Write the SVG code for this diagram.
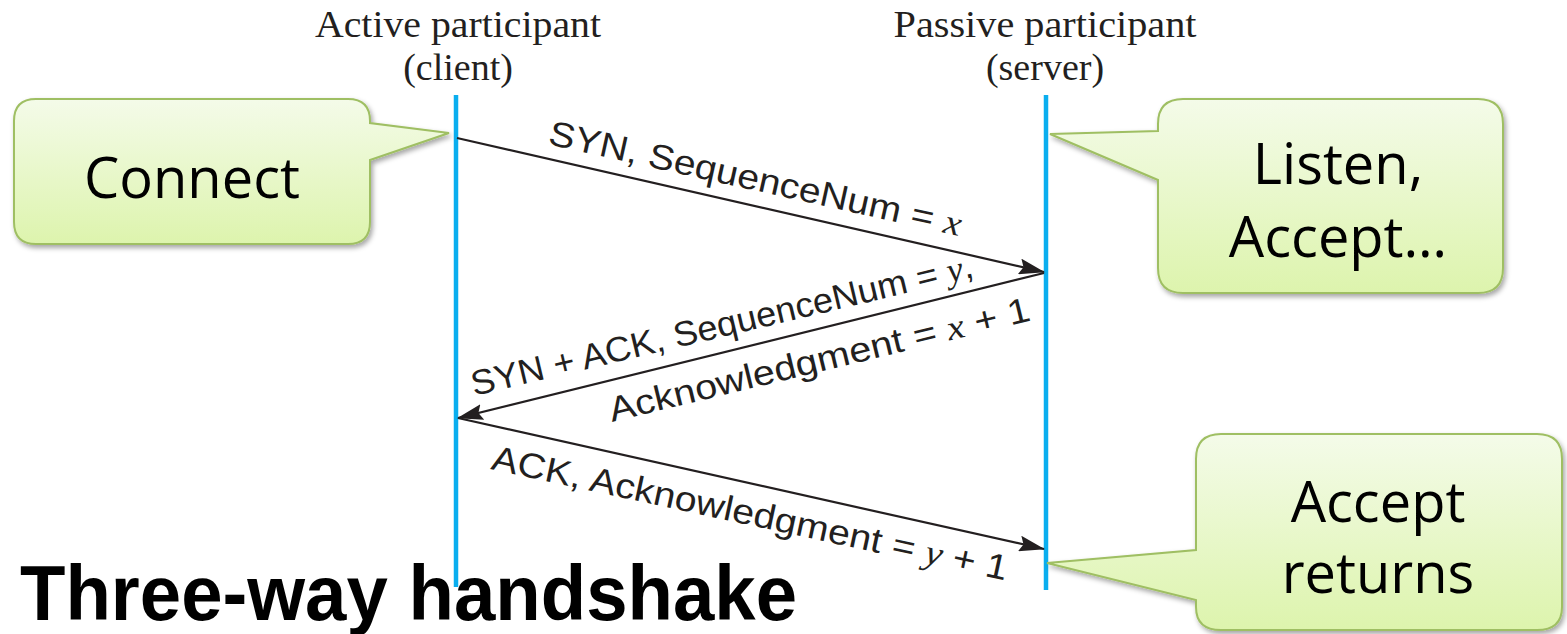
<svg xmlns="http://www.w3.org/2000/svg" width="1567" height="634" viewBox="0 0 1567 634">
<style>
.hdr{font-family:"Liberation Serif",serif;font-size:38px;fill:#231f20;text-anchor:middle}
.lbl{font-family:"Liberation Sans",Arial,sans-serif;font-size:35px;fill:#231f20}
.var{font-family:"Liberation Serif",serif;font-style:italic}
.bub{fill:url(#g);stroke:#9fbf63;stroke-width:2;filter:url(#sh)}
.btx{font-family:"Open Sans","Noto Sans",sans-serif;font-size:56px;fill:#000;text-anchor:middle}
.life{stroke:#0aaeef;stroke-width:4.5;fill:none}
.msg{stroke:#231f20;stroke-width:2.2;fill:none;marker-end:url(#ah)}
</style>
<defs>
<linearGradient id="g" x1="0" y1="0" x2="0" y2="1">
<stop offset="0" stop-color="#f4fbe9"/>
<stop offset="1" stop-color="#ddf4ad"/>
</linearGradient>
<filter id="sh" x="-10%" y="-10%" width="130%" height="130%">
<feDropShadow dx="2" dy="3" stdDeviation="2.5" flood-color="#000" flood-opacity="0.35"/>
</filter>
<marker id="ah" viewBox="0 0 26 16" refX="25" refY="8" markerWidth="26" markerHeight="16" markerUnits="userSpaceOnUse" orient="auto">
<path d="M0,0 L26,8 L0,16 L4,8 Z" fill="#231f20"/>
</marker>
</defs>
<g id="headers">
<text class="hdr" x="458" y="37" textLength="286" lengthAdjust="spacingAndGlyphs">Active participant</text>
<text class="hdr" x="458" y="80">(client)</text>
<text class="hdr" x="1045" y="37" textLength="303" lengthAdjust="spacingAndGlyphs">Passive participant</text>
<text class="hdr" x="1045" y="80">(server)</text>
</g>
<g id="lifelines">
<line class="life" x1="456" y1="95" x2="456" y2="587"/>
<line class="life" x1="1046" y1="95" x2="1046" y2="590"/>
</g>
<g id="connectors">
<line class="msg" x1="457" y1="138" x2="1044" y2="272"/>
<line class="msg" x1="1044" y1="273" x2="458" y2="418"/>
<line class="msg" x1="458" y1="418" x2="1044" y2="549"/>
<text class="lbl" transform="translate(547,144) rotate(12.6)" textLength="422" lengthAdjust="spacingAndGlyphs">SYN, SequenceNum = <tspan class="var">x</tspan></text>
<text class="lbl" transform="translate(474,396) rotate(-13.4)" textLength="515" lengthAdjust="spacingAndGlyphs">SYN + ACK, SequenceNum = <tspan class="var">y</tspan>,</text>
<text class="lbl" transform="translate(612,422) rotate(-13.6)" textLength="432" lengthAdjust="spacingAndGlyphs">Acknowledgment = <tspan class="var">x</tspan> + 1</text>
<text class="lbl" transform="translate(490,469) rotate(12.2)" textLength="527" lengthAdjust="spacingAndGlyphs">ACK, Acknowledgment = <tspan class="var">y</tspan> + 1</text>
</g>
<g id="connect">
<path class="bub" d="M36,99 H348 Q370,99 370,121 V123 L449,133 L370,160 V222 Q370,244 348,244 H36 Q14,244 14,222 V121 Q14,99 36,99 Z"/>
<text class="btx" x="192" y="198">Connect</text>
</g>
<g id="listen">
<path class="bub" d="M1183,99 H1478 Q1503,99 1503,124 V268 Q1503,293 1478,293 H1183 Q1158,293 1158,268 V180 L1050,134 L1158,131 V124 Q1158,99 1183,99 Z"/>
<text class="btx" x="1338" y="184">Listen,</text>
<text class="btx" x="1338" y="257">Accept…</text>
</g>
<g id="accept-returns">
<path class="bub" d="M1221,434 H1537 Q1562,434 1562,459 V607 Q1562,630 1537,630 H1221 Q1196,630 1196,607 V600 L1047,563 L1196,550 V459 Q1196,434 1221,434 Z"/>
<text class="btx" x="1378" y="522">Accept</text>
<text class="btx" x="1378" y="593">returns</text>
</g>
<g id="title">
<text x="20" y="620" font-family="Liberation Sans, Arial, sans-serif" font-weight="bold" font-size="78" textLength="777" lengthAdjust="spacingAndGlyphs" fill="#000">Three-way handshake</text>
</g>
</svg>
